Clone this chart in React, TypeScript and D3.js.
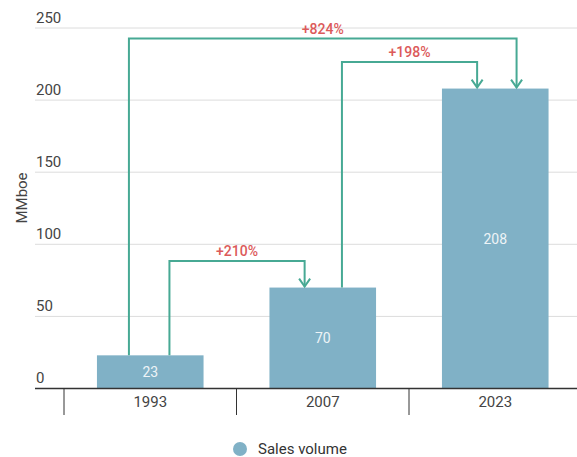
import React from "react";
import * as d3 from "d3";

const categories = ["1993", "2007", "2023"];
const values = [23, 70, 208];
const yTicks = [0, 50, 100, 150, 200, 250];
const arrowFrom = [0, 1, 0];
const arrowTo = [1, 2, 2];
const arrowLabels = ["+210%", "+198%", "+824%"];
const arrowLevels = [1, 1, 2];
const seriesName = "Sales volume";
const axisTitle = "MMboe";

const W = 577;
const H = 457;
const FONT = "Roboto, 'Noto Sans', sans-serif";
const BAR = "#80b1c6";
const ARROW = "#47a994";
const PCT = "#dc5a5a";

export default function App() {
  const x = d3.scaleBand<string>().domain(categories).range([64, 581.5]).padding(0);
  const y = d3.scaleLinear().domain([0, 250]).range([388.5, 28]);
  const barW = x.bandwidth() * 0.618;
  const barX = (i: number) => (x(categories[i]) as number) + (x.bandwidth() - barW) / 2;

  const arrows = arrowFrom.map((f, k) => {
    const t = arrowTo[k];
    const lvl = arrowLevels[k];
    const fromFrac = lvl === 1 ? 0.68 : 0.3;
    const toFrac = lvl === 1 ? 0.33 : 0.7;
    const x1 = barX(f) + barW * fromFrac;
    const x2 = barX(t) + barW * toFrac;
    const maxV = d3.max(values.slice(f, t + 1)) as number;
    const topY = y(maxV) - (lvl === 1 ? 26.5 : 50);
    const y1 = y(values[f]);
    const y2 = y(values[t]);
    const path = d3.path();
    path.moveTo(x1, y1);
    path.lineTo(x1, topY);
    path.lineTo(x2, topY);
    path.lineTo(x2, y2 - 1);
    return { x1, x2, topY, y2, d: path.toString(), label: arrowLabels[k] };
  });

  return (
    <svg width={W} height={H} style={{ position: "absolute", left: 0, top: 0, background: "#fff" }} fontFamily={FONT}>
      {yTicks.map((t) => (
        <g key={t}>
          {t !== 0 && <line x1={35} x2={W} y1={y(t)} y2={y(t)} stroke="#dcdcdc" strokeWidth={1} />}
          <text x={36} y={y(t) - 5.5} fontSize={15} fill="#444">
            {t}
          </text>
        </g>
      ))}
      <text transform={`translate(27,198) rotate(-90)`} textAnchor="middle" fontSize={15} fill="#444">
        {axisTitle}
      </text>
      {values.map((v, i) => (
        <g key={categories[i]}>
          <rect x={barX(i)} y={y(v)} width={barW} height={y(0) - y(v)} fill={BAR} />
          <text
            x={barX(i) + barW / 2}
            y={(y(v) + y(0)) / 2 + 5}
            textAnchor="middle"
            fontSize={14}
            fill="#eef4f7"
          >
            {v}
          </text>
        </g>
      ))}
      <line x1={35} x2={W} y1={y(0)} y2={y(0)} stroke="#333" strokeWidth={1.5} />
      {categories.map((c) => (
        <g key={c}>
          <line x1={x(c) as number} x2={x(c) as number} y1={y(0)} y2={415} stroke="#333" strokeWidth={1} />
          <text x={(x(c) as number) + x.bandwidth() / 2} y={407} textAnchor="middle" fontSize={15} fill="#444">
            {c}
          </text>
        </g>
      ))}
      <line x1={581.5} x2={581.5} y1={y(0)} y2={415} stroke="#333" strokeWidth={1} />
      {arrows.map((a) => (
        <g key={a.label}>
          <path d={a.d} fill="none" stroke={ARROW} strokeWidth={2} />
          <path
            d={`M${a.x2 - 5.5},${a.y2 - 9}L${a.x2},${a.y2 - 1}L${a.x2 + 5.5},${a.y2 - 9}`}
            fill="none"
            stroke={ARROW}
            strokeWidth={2}
            strokeLinejoin="miter"
          />
          <text x={(a.x1 + a.x2) / 2} y={a.topY - 5} textAnchor="middle" fontSize={14} fontWeight={500} fill={PCT}>
            {a.label}
          </text>
        </g>
      ))}
      <circle cx={240} cy={449} r={7} fill={BAR} />
      <text x={258} y={454} fontSize={15} fill="#333">
        {seriesName}
      </text>
    </svg>
  );
}
